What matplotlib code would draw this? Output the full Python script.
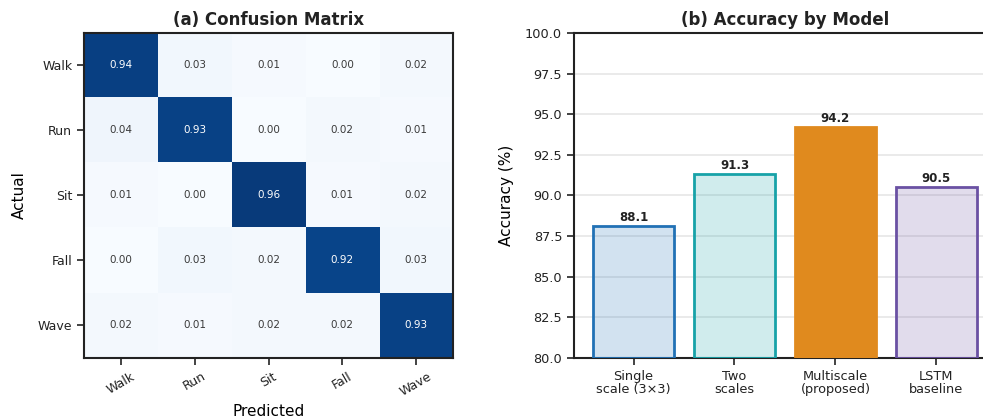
import numpy as np
import matplotlib
matplotlib.use("Agg")
import matplotlib.pyplot as plt

classes = ["Walk", "Run", "Sit", "Fall", "Wave"]
cm = np.array([
    [0.94, 0.03, 0.01, 0.00, 0.02],
    [0.04, 0.93, 0.00, 0.02, 0.01],
    [0.01, 0.00, 0.96, 0.01, 0.02],
    [0.00, 0.03, 0.02, 0.92, 0.03],
    [0.02, 0.01, 0.02, 0.02, 0.93],
])

models = ["Single\nscale (3×3)", "Two\nscales", "Multiscale\n(proposed)", "LSTM\nbaseline"]
accuracy = [88.1, 91.3, 94.2, 90.5]
edge_colors = ["#2171b5", "#17a2a8", "#e08a1e", "#6a51a3"]
fill_alpha = [0.2, 0.2, 1.0, 0.2]

plt.rcParams['font.family'] = ['DejaVu Sans']
plt.rcParams['text.color'] = '#222222'
plt.rcParams['xtick.color'] = '#222222'
plt.rcParams['ytick.color'] = '#222222'
fig = plt.figure(figsize=(9.83, 4.19), dpi=100)

# (a) confusion matrix
ax1 = fig.add_axes([0.0855, 0.1456, 0.3754, 0.7757])
ax1.imshow(cm, cmap="Blues", vmin=0, vmax=1, aspect="auto", interpolation="nearest")
for i in range(cm.shape[0]):
    for j in range(cm.shape[1]):
        v = cm[i, j]
        ax1.text(j, i, f"{v:.2f}", ha="center", va="center", fontsize=7.5,
                 color="white" if v > 0.5 else "#3a3a3a")
ax1.set_xticks(range(len(classes)))
ax1.set_yticks(range(len(classes)))
ax1.set_xticklabels(classes, rotation=30, fontsize=9)
ax1.set_yticklabels(classes, fontsize=9)
ax1.set_xlabel("Predicted", fontsize=11)
ax1.set_ylabel("Actual", fontsize=11, labelpad=8)
ax1.set_title("(a) Confusion Matrix", fontsize=12, fontweight="bold", pad=6)
ax1.tick_params(length=5, width=1.2, color="#222222")
for s in ax1.spines.values():
    s.set_linewidth(1.5)
    s.set_color("#222222")

# (b) accuracy bars
ax2 = fig.add_axes([0.5839, 0.1456, 0.4293, 0.7757])
x = np.arange(len(models))
for xi, val, ec, a in zip(x, accuracy, edge_colors, fill_alpha):
    ax2.bar(xi, val - 80, bottom=80, width=0.8, color=matplotlib.colors.to_rgba(ec, a),
            edgecolor=ec, linewidth=2, zorder=3)
    ax2.text(xi, val + 0.15, f"{val:.1f}", ha="center", va="bottom", fontsize=8.5,
             fontweight="bold", zorder=4)
ax2.set_ylim(80, 100)
ax2.set_xlim(-0.59, 3.59)
ax2.set_yticks(np.arange(80, 100.1, 2.5))
ax2.set_yticklabels([f"{t:.1f}" for t in np.arange(80, 100.1, 2.5)], fontsize=9.3)
ax2.set_xticks(x)
ax2.set_xticklabels(models, fontsize=9.3, linespacing=1.0)
ax2.set_ylabel("Accuracy (%)", fontsize=11, labelpad=8)
ax2.set_title("(b) Accuracy by Model", fontsize=12, fontweight="bold", pad=6)
ax2.grid(axis="y", color="#e6e6e6", linewidth=1.2, zorder=0)
ax2.set_axisbelow(True)
ax2.tick_params(length=5, width=1.2, color="#222222")
for s in ax2.spines.values():
    s.set_linewidth(1.5)
    s.set_color("#222222")

fig.savefig("out.png", dpi=100)
